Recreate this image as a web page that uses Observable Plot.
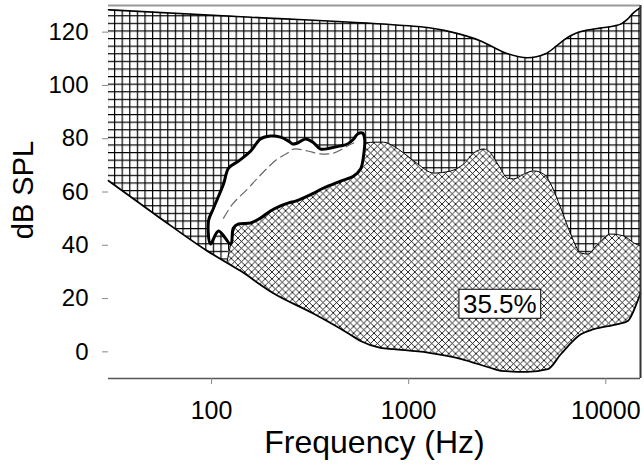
<!DOCTYPE html>
<html><head><meta charset="utf-8">
<script src="https://cdn.jsdelivr.net/npm/d3@7"></script>
<script src="https://cdn.jsdelivr.net/npm/@observablehq/plot@0.6"></script>
<style>body{margin:0;background:#fff} #chart{width:644px;height:465px} #chart svg text{stroke:none !important;font-weight:normal !important;}</style>
</head><body><div id="chart"></div>
<script>
// ---- axes ----
const xDomain = [30, 15000];
const yDomain = [-10, 130];
const xTicks = [100, 1000, 10000];
const yTicks = [0, 20, 40, 60, 80, 100, 120];
const xLabel = "Frequency (Hz)";
const yLabel = "dB SPL";

// ---- threshold of pain (upper curve) ----
const painFreq = [30, 158, 860, 1150, 1635, 2320, 3100, 4000, 4950, 5900, 6400, 7050, 8100, 9400, 11000, 11900, 12900, 13900, 15000];
const painDb   = [128.4, 125.6, 122.7, 122, 120.1, 116.7, 112.2, 110.4, 111.9, 116.1, 118, 119.6, 120.8, 121.5, 122.3, 123, 124.9, 127.4, 129.2];

// ---- threshold of hearing (lower curve) ----
const thrFreq = [30, 53, 95, 140, 206, 330, 490, 570, 720, 840, 1250, 1835, 2700, 2930, 4000, 5080, 5910, 7470, 8690, 11500, 12940, 14500, 15000];
const thrDb   = [64.2, 51, 37.9, 30.4, 22, 14.3, 7.1, 4.1, 1.5, 1.0, -0.3, -2.6, -6.4, -7.1, -7.5, -6.5, -0.9, 6.6, 8.5, 10.4, 11.6, 19.1, 22];

// ---- music area upper limit ----
const musicFreq = [120, 135, 200, 400, 605, 680, 746, 839, 944, 1112, 1341, 1635, 1902, 2138, 2404, 2608, 2831, 3183, 3414, 3838, 4315, 4845, 5258, 5910, 6640, 7470, 8110, 9100, 10590, 12330, 13860, 15000];
const musicDb   = [34, 49, 60, 70, 78.4, 78.7, 78.7, 77.2, 74.6, 70.5, 67.1, 67.9, 70.5, 74.6, 76.1, 74.6, 70.5, 65.2, 64.9, 66.7, 67.9, 66.7, 63, 54, 44.2, 37.1, 36.7, 40.5, 44.2, 43.5, 40.9, 39.7];

// ---- speech area outline ----
const speechUpperFreq = [98.8, 96.5, 102.4, 115, 122, 137, 158, 177, 199, 224, 246, 258, 273, 300, 330, 357, 402, 452, 490, 526, 551, 584, 598, 592];
const speechUpperDb   = [40.5, 49.1, 54, 63, 69, 71.6, 75.4, 79.9, 81, 80.6, 79.1, 78, 78.4, 79.9, 78.4, 76.1, 76.5, 77.3, 78, 79.9, 81.8, 82.1, 79.9, 74.3];
const speechLowerFreq = [108.5, 125, 129, 137, 158, 177, 199, 224, 246, 267, 293, 330, 370, 452, 526, 570];
const speechLowerDb   = [45.4, 40.5, 46.5, 48, 48.4, 50.2, 52.9, 54.8, 55.9, 56.6, 57.8, 59.6, 61.5, 64.1, 66, 68.6];

// ---- speech area centre (dashed) ----
const speechMidFreq = [115, 128, 152, 171, 192, 216, 243, 260, 307, 357, 416, 490, 526];
const speechMidDb   = [50.2, 55.5, 61.1, 65.2, 69, 72.4, 74.6, 76.1, 75.4, 74.3, 74.6, 77.3, 78.4];

// ---- annotation ----
const noteFreq = [2900];
const noteDb = [17.8];
const noteText = ["35.5%"];

const pts = (fs, ds) => fs.map((f, i) => ({f, db: ds[i]}));
const pain = pts(painFreq, painDb);
const thr = pts(thrFreq, thrDb);
const music = pts(musicFreq, musicDb);
const speech = pts(speechUpperFreq, speechUpperDb).concat(pts(speechLowerFreq, speechLowerDb).reverse());
const speechMid = pts(speechMidFreq, speechMidDb);
const notes = noteText.map((t, i) => ({t, f: noteFreq[i], db: noteDb[i]}));

const svg = Plot.plot({
  width: 644, height: 465,
  marginLeft: 108, marginRight: 4, marginTop: 5, marginBottom: 87,
  style: {fontFamily: "'Liberation Sans', Arial, sans-serif", background: "white", color: "black"},
  x: {type: "log", domain: xDomain, label: null},
  y: {domain: yDomain, label: null},
  marks: [
    Plot.areaY(pain, {x: "f", y1: yDomain[0], y2: "db", fill: "url(#gridpat)", curve: "monotone-x"}),
    Plot.areaY(music, {x: "f", y1: yDomain[0], y2: "db", fill: "url(#xhatch)", curve: "monotone-x"}),
    Plot.areaY(thr, {x: "f", y1: yDomain[0], y2: "db", fill: "white", curve: "monotone-x"}),
    Plot.line(pain, {x: "f", y: "db", curve: "monotone-x", stroke: "black", strokeWidth: 1.6}),
    Plot.line(music, {x: "f", y: "db", curve: "monotone-x", stroke: "black", strokeWidth: 1}),
    Plot.line(thr, {x: "f", y: "db", curve: "monotone-x", stroke: "black", strokeWidth: 1.8}),
    Plot.line(speech, {x: "f", y: "db", curve: "catmull-rom-closed", fill: "white", stroke: "black", strokeWidth: 3, strokeLinejoin: "round"}),
    Plot.line(speechMid, {x: "f", y: "db", curve: "catmull-rom", stroke: "#666", strokeWidth: 1.2, strokeDasharray: "9,5"}),
    Plot.ruleY([yDomain[1]], {stroke: "#999", strokeWidth: 2}),
    Plot.ruleX([xDomain[1]], {stroke: "#333", strokeWidth: 2}),
    Plot.ruleY([yDomain[0]], {stroke: "#555", strokeWidth: 1.3}),
    Plot.axisX({ticks: xTicks, tickFormat: () => "", tickSize: 6}),
    Plot.axisY({ticks: yTicks, tickFormat: () => "", tickSize: 6}),
    Plot.text(xTicks, {x: d => d, text: d => String(d), frameAnchor: "bottom", lineAnchor: "top", textAnchor: "middle", dy: 23, fontSize: 25}),
    Plot.text(yTicks, {y: d => d, text: d => String(d), frameAnchor: "left", lineAnchor: "middle", textAnchor: "end", dx: -20, fontSize: 24}),
    Plot.text([xLabel], {frameAnchor: "bottom", lineAnchor: "middle", textAnchor: "middle", dy: 64, fontSize: 32}),
    Plot.text([yLabel], {frameAnchor: "left", lineAnchor: "middle", textAnchor: "middle", dx: -85, dy: -2, rotate: -90, fontSize: 29}),
    Plot.text(notes, {x: "f", y: "db", text: "t", fontSize: 26})
  ]
});

document.getElementById("chart").append(svg);

// tick marks grey
d3.select(svg).selectAll("g[aria-label$='-axis tick']").attr("stroke", "#888");

d3.select(svg).insert("defs", ":first-child").html(
  '<pattern id="gridpat" patternUnits="userSpaceOnUse" width="7.6" height="7.6">' +
  '<path d="M0,0.6H7.6M0.6,0V7.6" stroke="#000" stroke-width="1.2" fill="none"/></pattern>' +
  '<pattern id="xhatch" patternUnits="userSpaceOnUse" width="6.8" height="6.8">' +
  '<rect width="6.8" height="6.8" fill="#fff"/>' +
  '<path d="M-1,-1L7.8,7.8M7.8,-1L-1,7.8" stroke="#000" stroke-width="0.85" fill="none"/></pattern>'
);

// white boxed annotation
d3.select(svg).selectAll("text").filter(function() { return noteText.includes(this.textContent); })
  .each(function() {
    const bb = this.getBBox();
    const r = document.createElementNS("http://www.w3.org/2000/svg", "rect");
    r.setAttribute("x", bb.x - 4);
    r.setAttribute("y", bb.y + 0.5);
    r.setAttribute("width", bb.width + 8);
    r.setAttribute("height", bb.height - 1);
    r.setAttribute("fill", "white");
    r.setAttribute("stroke", "black");
    r.setAttribute("stroke-width", "1");
    const tr = this.getAttribute("transform");
    if (tr) r.setAttribute("transform", tr);
    this.parentNode.insertBefore(r, this);
  });
</script>
</body></html>
